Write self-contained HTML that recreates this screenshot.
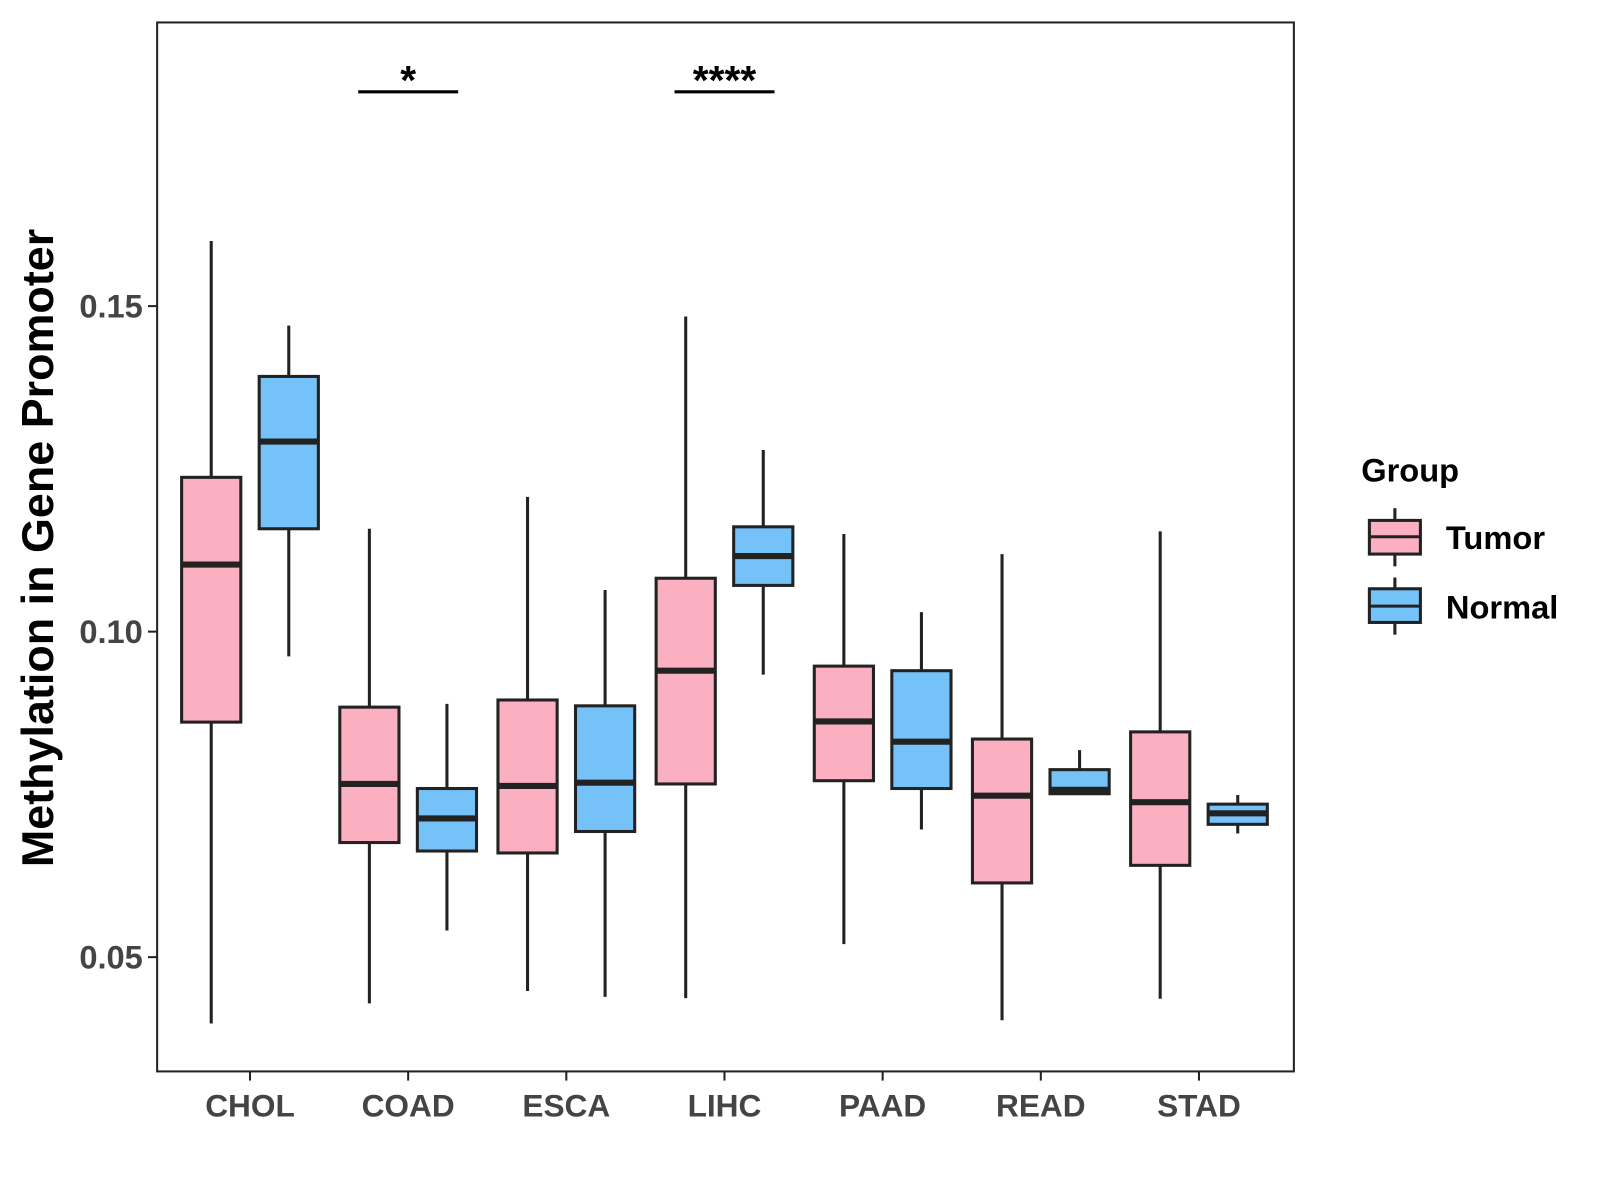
<!DOCTYPE html>
<html><head><meta charset="utf-8"><style>
body{margin:0;background:#fff}
svg{display:block;font-family:"Liberation Sans",Arial,sans-serif}
</style></head><body>
<svg id="chart" width="1600" height="1200" viewBox="0 0 1600 1200">
<rect x="0" y="0" width="1600" height="1200" fill="#fff"/>
<g transform="scale(1.0204)">
<rect x="154" y="22" width="1114" height="1028" fill="none" stroke="#222" stroke-width="2"/>
<g id="marks"></g>
<g id="axes"></g>
<text transform="translate(52,537) rotate(-90)" text-anchor="middle" font-size="44" font-weight="bold" fill="#000">Methylation in Gene Promoter</text>
<g>
<text x="1334" y="472" font-size="32" font-weight="bold" fill="#000">Group</text>
<g>
<line x1="1367" y1="498" x2="1367" y2="555" stroke="#222" stroke-width="3"/>
<rect x="1342" y="510" width="50" height="33" fill="#FBB0C2" stroke="#222" stroke-width="3"/>
<line x1="1342" y1="526" x2="1392" y2="526" stroke="#222" stroke-width="3"/>
<text x="1417" y="538" font-size="32" font-weight="bold" fill="#000">Tumor</text>
</g>
<g>
<line x1="1367" y1="566" x2="1367" y2="622" stroke="#222" stroke-width="3"/>
<rect x="1342" y="577" width="50" height="33" fill="#75C2F8" stroke="#222" stroke-width="3"/>
<line x1="1342" y1="594" x2="1392" y2="594" stroke="#222" stroke-width="3"/>
<text x="1417" y="606" font-size="32" font-weight="bold" fill="#000">Normal</text>
</g>
</g>
</g>
</svg>
<script>
const categories=["CHOL","COAD","ESCA","LIHC","PAAD","READ","STAD"];
// [low, q1, median, q3, high]
const tumorStats=[
[0.0398,0.0861,0.1103,0.1237,0.160],
[0.0429,0.0676,0.0766,0.0884,0.1158],
[0.0448,0.0660,0.0763,0.0895,0.1207],
[0.0437,0.0766,0.0940,0.1082,0.1484],
[0.0520,0.0771,0.0862,0.0947,0.1150],
[0.0403,0.0614,0.0748,0.0835,0.1119],
[0.0436,0.0641,0.0738,0.0846,0.1154]];
const normalStats=[
[0.0962,0.1158,0.1292,0.1392,0.147],
[0.0541,0.0663,0.0713,0.0759,0.0889],
[0.0439,0.0693,0.0768,0.0886,0.1064],
[0.0934,0.1071,0.1116,0.1161,0.1279],
[0.0696,0.0759,0.0831,0.0940,0.1030],
[0.0751,0.0751,0.0757,0.0788,0.0818],
[0.0690,0.0704,0.0721,0.0735,0.0749]];
const yTicks=[0.05,0.10,0.15];
const yTickLabels=["0.05","0.10","0.15"];
const sigCategories=["COAD","LIHC"];
const sigLabels=["*","****"];

const NS="http://www.w3.org/2000/svg";
const y=v=>619-(v-0.10)*6380;
const x=i=>245+i*155;
function mk(tag,attrs,parent){const e=document.createElementNS(NS,tag);for(const k in attrs)e.setAttribute(k,attrs[k]);parent.appendChild(e);return e;}
const marks=document.getElementById('marks'),axes=document.getElementById('axes');
function drawBox(cx,s,fill,name){
  const g=mk('g',{},marks);
  
  
  mk('line',{x1:cx,x2:cx,y1:y(s[4]),y2:y(s[0]),stroke:'#222','stroke-width':3},g);
  mk('rect',{x:cx-29,y:y(s[3]),width:58,height:Math.max(1,y(s[1])-y(s[3])),fill:fill,stroke:'#222','stroke-width':3},g);
  mk('line',{x1:cx-29,x2:cx+29,y1:y(s[2]),y2:y(s[2]),stroke:'#222','stroke-width':6},g);
}
categories.forEach((c,i)=>{
  drawBox(x(i)-38,tumorStats[i],'#FBB0C2','box-'+c.toLowerCase()+'-tumor');
  drawBox(x(i)+38,normalStats[i],'#75C2F8','box-'+c.toLowerCase()+'-normal');
  mk('line',{x1:x(i),x2:x(i),y1:1050,y2:1059,stroke:'#222','stroke-width':2},axes);
  const t=mk('text',{x:x(i),y:1094,'text-anchor':'middle','font-size':31,'font-weight':'bold',fill:'#444'},axes);
  t.textContent=c;
  
  
});
yTicks.forEach((v,i)=>{
  mk('line',{x1:145,x2:154,y1:y(v),y2:y(v),stroke:'#222','stroke-width':2},axes);
  const t=mk('text',{x:140,y:y(v)+11,'text-anchor':'end','font-size':32,'font-weight':'bold',fill:'#444'},axes);
  t.textContent=yTickLabels[i];
  
  
});
sigCategories.forEach((c,k)=>{
  const i=categories.indexOf(c);
  const g=mk('g',{},marks);
  
  
  mk('line',{x1:x(i)-49,x2:x(i)+49,y1:90,y2:90,stroke:'#000','stroke-width':3},g);
  const t=mk('text',{x:x(i),y:92,'text-anchor':'middle','font-size':40,'font-weight':'bold',fill:'#000'},g);
  t.textContent=sigLabels[k];
});
</script>
</body></html>
